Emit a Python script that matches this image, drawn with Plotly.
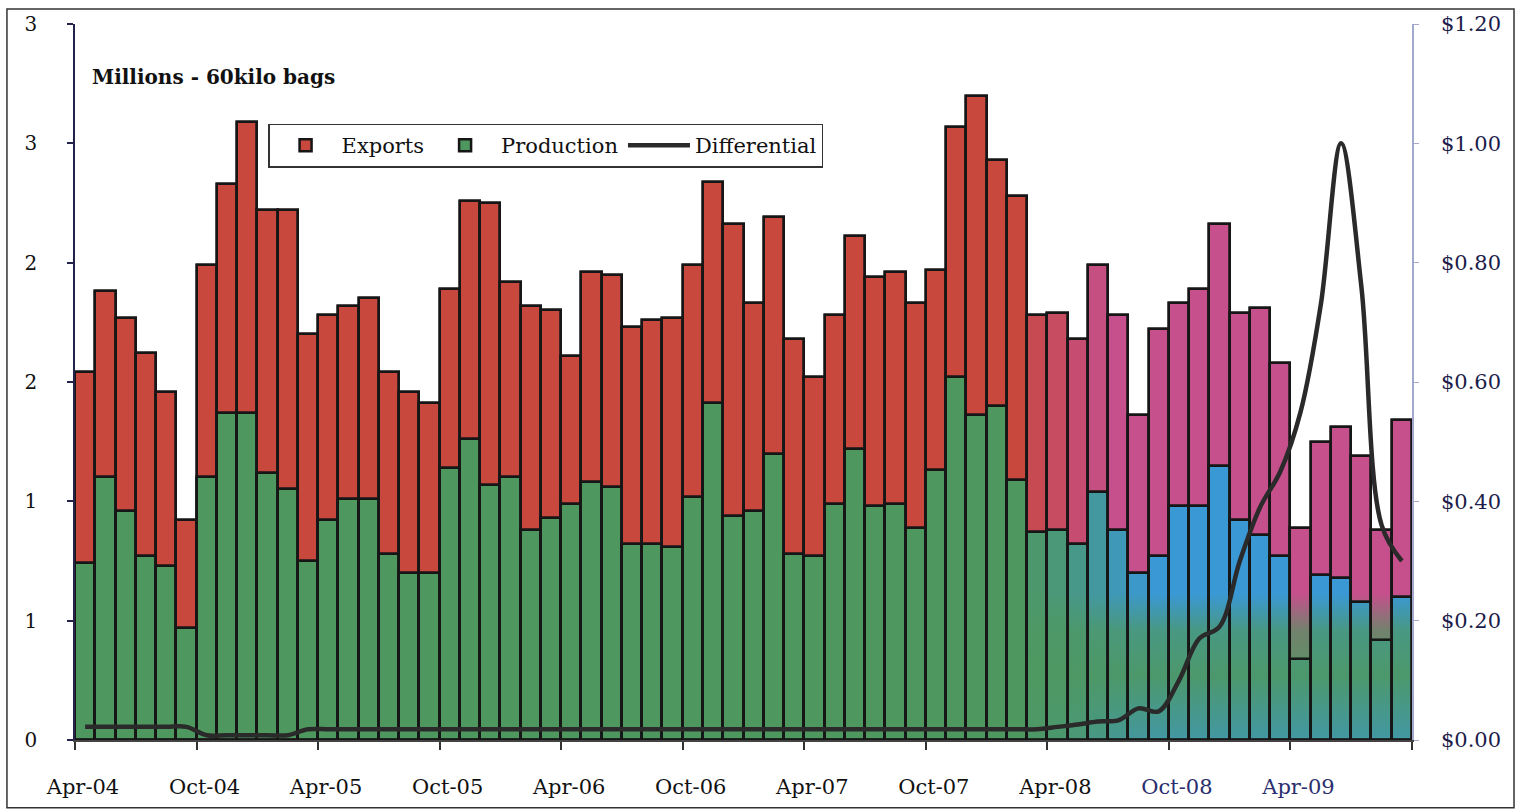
import pandas as pd
import plotly.graph_objects as go

# Monthly series, Apr-04 .. Sep-09
months = list(pd.date_range("2004-04-01", "2009-09-01", freq="MS").strftime("%b-%y"))

# Millions of 60 kg bags
exports = [
    1.54, 1.88, 1.77, 1.62, 1.46, 0.92, 1.99, 2.33, 2.59, 2.22,
    2.22, 1.70, 1.78, 1.82, 1.85, 1.54, 1.46, 1.41, 1.89, 2.26,
    2.25, 1.92, 1.82, 1.80, 1.61, 1.96, 1.95, 1.73, 1.76, 1.77,
    1.99, 2.34, 2.16, 1.83, 2.19, 1.68, 1.52, 1.78, 2.11, 1.94,
    1.96, 1.83, 1.97, 2.57, 2.70, 2.43, 2.28, 1.78, 1.79, 1.68,
    1.99, 1.78, 1.36, 1.72, 1.83, 1.89, 2.16, 1.79, 1.81, 1.58,
    0.89, 1.25, 1.31, 1.19, 0.88, 1.34,
]
production = [
    0.74, 1.10, 0.96, 0.77, 0.73, 0.47, 1.10, 1.37, 1.37, 1.12,
    1.05, 0.75, 0.92, 1.01, 1.01, 0.78, 0.70, 0.70, 1.14, 1.26,
    1.07, 1.10, 0.88, 0.93, 0.99, 1.08, 1.06, 0.82, 0.82, 0.81,
    1.02, 1.41, 0.94, 0.96, 1.20, 0.78, 0.77, 0.99, 1.22, 0.98,
    0.99, 0.89, 1.13, 1.52, 1.36, 1.40, 1.09, 0.87, 0.88, 0.82,
    1.04, 0.88, 0.70, 0.77, 0.98, 0.98, 1.15, 0.92, 0.86, 0.77,
    0.34, 0.69, 0.68, 0.58, 0.42, 0.60,
]
# US$ per lb
differential = [
    0.022, 0.022, 0.022, 0.022, 0.022, 0.022, 0.008, 0.008, 0.008, 0.008,
    0.008, 0.018, 0.018, 0.018, 0.018, 0.018, 0.018, 0.018, 0.018, 0.018,
    0.018, 0.018, 0.018, 0.018, 0.018, 0.018, 0.018, 0.018, 0.018, 0.018,
    0.018, 0.018, 0.018, 0.018, 0.018, 0.018, 0.018, 0.018, 0.018, 0.018,
    0.018, 0.018, 0.018, 0.018, 0.018, 0.018, 0.018, 0.018, 0.022, 0.026,
    0.031, 0.033, 0.053, 0.048, 0.100, 0.170, 0.190, 0.300, 0.390, 0.450,
    0.550, 0.730, 1.000, 0.760, 0.360, 0.300,
]

x_tick_labels = ["Apr-04", "Oct-04", "Apr-05", "Oct-05", "Apr-06", "Oct-06",
                 "Apr-07", "Oct-07", "Apr-08", "Oct-08", "Apr-09"]
left_tick_values = [0, 0.5, 1, 1.5, 2, 2.5, 3]
left_tick_labels = ["0", "1", "1", "2", "2", "3", "3"]
right_tick_values = [0, 0.2, 0.4, 0.6, 0.8, 1.0, 1.2]
right_tick_labels = ["$0.00", "$0.20", "$0.40", "$0.60", "$0.80", "$1.00", "$1.20"]

n = len(months)
pos = list(range(n))

# ---- colours -------------------------------------------------------------
RED, PINK = (200, 72, 62), (197, 80, 140)
GREEN, BLUE = (78, 152, 96), (58, 152, 212)


def mix(a, b, t):
    return "rgb(%d,%d,%d)" % tuple(round(a[k] + (b[k] - a[k]) * t) for k in range(3))


shift_start = months.index("Mar-08")
export_ramp = {0: 0.25, 1: 0.45, 2: 0.65, 3: 0.85}
production_ramp = {0: 0.1, 1: 0.2, 2: 0.35, 3: 0.55, 4: 0.75, 5: 0.9}
export_colors = [mix(RED, PINK, 0 if i < shift_start else export_ramp.get(i - shift_start, 1.0))
                 for i in pos]
production_colors = [mix(GREEN, BLUE, 0 if i < shift_start else production_ramp.get(i - shift_start, 1.0))
                     for i in pos]

OUTLINE = "#161616"
FONT = "DejaVu Serif"

fig = go.Figure()

# filled bars
fig.add_trace(go.Bar(x=pos, y=exports, name="Exports", customdata=months,
                     marker=dict(color=export_colors, line=dict(color=OUTLINE, width=2.5)),
                     hovertemplate="%{customdata}: %{y:.2f}<extra>Exports</extra>"))
fig.add_trace(go.Bar(x=pos, y=production, name="Production", customdata=months,
                     marker=dict(color=production_colors, line=dict(color=OUTLINE, width=2.5)),
                     hovertemplate="%{customdata}: %{y:.2f}<extra>Production</extra>"))

# green wash over the lower part of the late bars
band_top = 0.62
band_x0, band_x1 = shift_start - 0.5, n - 0.5
fig.add_trace(go.Scatter(
    x=[band_x0, band_x1, band_x1, band_x0, band_x0], y=[0, 0, band_top, band_top, 0],
    mode="lines", line=dict(width=0), fill="toself",
    fillgradient=dict(type="vertical", start=0, stop=band_top,
                      colorscale=[[0.0, "rgba(78,152,96,0.4)"],
                                  [0.45, "rgba(78,152,96,0.9)"],
                                  [0.75, "rgba(78,152,96,0.7)"],
                                  [1.0, "rgba(78,152,96,0)"]]),
    yaxis="y2", showlegend=False, hoverinfo="skip"))

# bar outlines redrawn above the wash
for vals in (exports, production):
    fig.add_trace(go.Bar(x=pos, y=vals, yaxis="y3", showlegend=False, hoverinfo="skip",
                         marker=dict(color="rgba(0,0,0,0)", line=dict(color=OUTLINE, width=2.5))))

# differential on the right-hand axis
fig.add_trace(go.Scatter(x=pos, y=differential, name="Differential", yaxis="y4", mode="lines",
                         customdata=months,
                         line=dict(color="#2a2a2a", width=4.5, shape="spline", smoothing=1),
                         hovertemplate="%{customdata}: $%{y:.2f}<extra>Differential</extra>"))

x_tick_vals = [months.index(lbl) - 0.5 for lbl in x_tick_labels] + [n - 0.5]
x_tick_text = [lbl if lbl not in ("Oct-08", "Apr-09") else
               '<span style="color:#2a2e6e">%s</span>' % lbl for lbl in x_tick_labels] + [""]

fig.update_layout(
    width=1518, height=811,
    margin=dict(l=75, r=106, t=22, b=71),
    paper_bgcolor="white", plot_bgcolor="white",
    barmode="overlay", bargap=0,
    font=dict(family=FONT, size=20, color="#111111"),
    showlegend=True,
    legend=dict(orientation="h", x=0.1444, y=0.861, xanchor="left", yanchor="top",
                bgcolor="white", bordercolor="#333333", borderwidth=1.5,
                font=dict(family=FONT, size=21, color="#111111"),
                itemwidth=62, traceorder="normal"),
    xaxis=dict(range=[-0.5, n - 0.5], tickmode="array", tickvals=x_tick_vals, ticktext=x_tick_text,
               ticks="outside", ticklen=8, tickwidth=1.5, tickcolor="#333333",
               showline=True, linecolor="#444444", linewidth=2,
               showgrid=False, zeroline=False,
               ticklabelshift=8, ticklabelstandoff=19,
               tickfont=dict(family=FONT, size=21, color="#111111")),
    yaxis=dict(range=[0, 3], tickmode="array", tickvals=left_tick_values, ticktext=left_tick_labels,
               ticks="outside", ticklen=6, tickwidth=1.5, tickcolor="#22224a",
               showline=True, linecolor="#22224a", linewidth=1.5,
               showgrid=False, zeroline=False, ticklabelstandoff=26,
               tickfont=dict(family=FONT, size=20, color="#111111")),
    yaxis2=dict(range=[0, 3], overlaying="y", visible=False),
    yaxis3=dict(range=[0, 3], overlaying="y", visible=False),
    yaxis4=dict(range=[0, 1.2], overlaying="y", side="right", anchor="x",
                tickmode="array", tickvals=right_tick_values, ticktext=right_tick_labels,
                ticks="outside", ticklen=5, tickwidth=1, tickcolor="#a4a8cc",
                showline=True, linecolor="#a4a8cc", linewidth=1.5,
                showgrid=False, zeroline=False, ticklabelstandoff=18,
                tickfont=dict(family=FONT, size=21, color="#1c1d4a")),
    annotations=[dict(text="<b>Millions - 60kilo bags</b>", xref="paper", yref="paper",
                      x=0.0112, y=0.926, xanchor="left", yanchor="middle", showarrow=False,
                      font=dict(family=FONT, size=20, color="#111111"))],
    shapes=[dict(type="rect", xref="paper", yref="paper",
                 x0=-0.0509, x1=1.0763, y0=-0.0947, y1=1.0209,
                 line=dict(color="#333333", width=1.5), fillcolor="rgba(0,0,0,0)", layer="below")],
)

fig.write_html("out.html")
